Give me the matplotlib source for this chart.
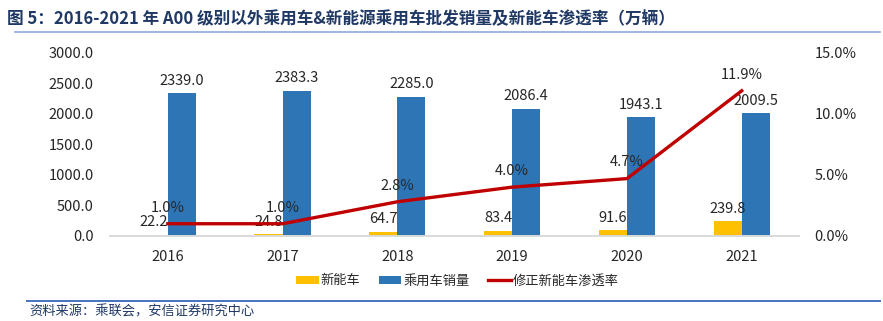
import numpy as np
import matplotlib.pyplot as plt
from matplotlib.lines import Line2D

plt.rcParams['font.family'] = ['Noto Sans CJK SC', 'DejaVu Sans']

# ---- data ----
years = ['2016', '2017', '2018', '2019', '2020', '2021']
nev_sales = [22.2, 24.8, 64.7, 83.4, 91.6, 239.8]
pv_sales = [2339.0, 2383.3, 2285.0, 2086.4, 1943.1, 2009.5]
penetration = [1.0, 1.0, 2.8, 4.0, 4.7, 11.9]

YELLOW = '#FFC000'
BLUE = '#2E75B6'
RED = '#C00000'
TXT = '#262626'

fig = plt.figure(figsize=(8.83, 3.21), dpi=100)
ax = fig.add_axes([0.125, 0.265, 0.78, 0.57])
ax2 = ax.twinx()

x = np.arange(len(years))
w = 0.245
b1 = ax.bar(x - w / 2, nev_sales, w, color=YELLOW, zorder=2)
b2 = ax.bar(x + w / 2, pv_sales, w, color=BLUE, zorder=2)

for xi, v in zip(x, nev_sales):
    ax.text(xi - w / 2, v + 90, f'{v:.1f}', ha='center', va='bottom', fontsize=10.5, color=TXT)
for xi, v in zip(x, pv_sales):
    ax.text(xi + w / 2, v + 90, f'{v:.1f}', ha='center', va='bottom', fontsize=10.5, color=TXT)

ax2.plot(x, penetration, color=RED, lw=2.4, zorder=3)
for xi, v in zip(x, penetration):
    ax2.text(xi, v + 0.75, f'{v:.1f}%', ha='center', va='bottom', fontsize=10.5, color=TXT)

ax.set_xlim(-0.5, len(years) - 0.5)
ax.set_ylim(0, 3000)
ax.set_yticks(np.arange(0, 3001, 500))
ax.set_yticklabels([f'{v:.1f}' for v in np.arange(0, 3001, 500)])
ax2.set_ylim(0, 15)
ax2.set_yticks([0, 5, 10, 15])
ax2.set_yticklabels([f'{v:.1f}%' for v in [0, 5, 10, 15]])
ax.set_xticks(x)
ax.set_xticklabels(years)

for a in (ax, ax2):
    for s in ('top', 'left', 'right'):
        a.spines[s].set_visible(False)
    a.spines['bottom'].set_color('#D9D9D9')
    a.spines['bottom'].set_linewidth(1.2)
    a.tick_params(length=0, labelsize=10.5, colors=TXT)
ax.tick_params(axis='x', pad=10)
ax.tick_params(axis='y', pad=12)
ax2.tick_params(axis='y', pad=11)

handles = [b1, b2, Line2D([0], [0], color=RED, lw=2.4)]
labels = ['新能车', '乘用车销量', '修正新能车渗透率']
fig.legend(handles, labels, loc='center', bbox_to_anchor=(0.518, 0.125), ncol=3,
           frameon=False, fontsize=9.5, handlelength=1.7, handleheight=0.55,
           columnspacing=1.4, handletextpad=0.15, labelcolor=TXT)

# title and source
fig.text(0.008, 0.94, '图 5：2016-2021 年 A00 级别以外乘用车&新能源乘用车批发销量及新能车渗透率（万辆）',
         fontsize=12, fontweight='bold', color='#1F3864', va='center')
fig.add_artist(Line2D([0.017, 0.997], [0.9, 0.9], color='#8EA9DB', lw=1.2))
fig.add_artist(Line2D([0.031, 0.997], [0.062, 0.062], color='#4472C4', lw=1.4))
fig.text(0.033, 0.027, '资料来源：乘联会，安信证券研究中心', fontsize=9.5, style='italic',
         color='#1F3864', va='center')

fig.savefig('out.png', dpi=100)
